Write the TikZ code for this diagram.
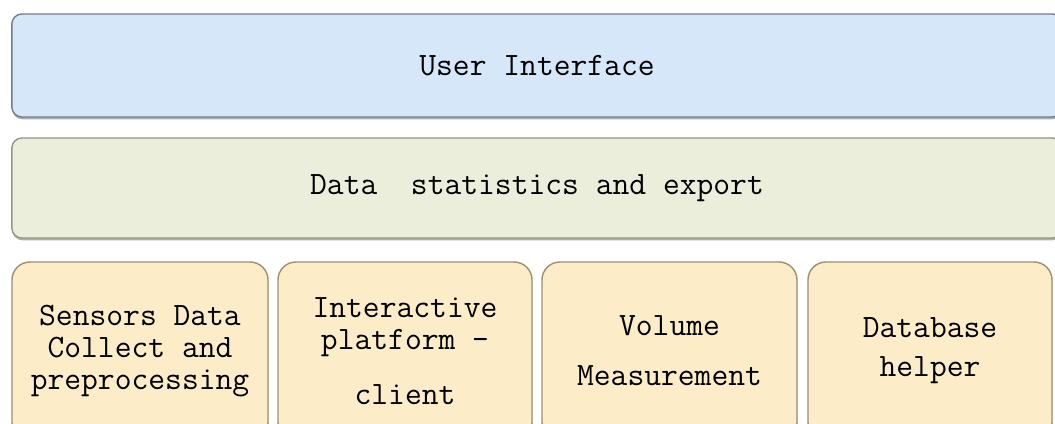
\documentclass[tikz,border=0pt]{standalone}
\usetikzlibrary{shadows}
\definecolor{uifill}{RGB}{213,231,249}
\definecolor{uiline}{RGB}{112,126,140}
\definecolor{statfill}{RGB}{234,238,218}
\definecolor{statline}{RGB}{150,150,128}
\definecolor{modfill}{RGB}{252,236,200}
\definecolor{modline}{RGB}{158,143,112}
\tikzset{layer/.style={draw, line width=1pt, inner sep=0pt, align=center,
    drop shadow={shadow xshift=0.3pt, shadow yshift=-1.6pt, opacity=0.45, fill=black!70},
    font=\ttfamily\fontsize{23.2}{22.6}\selectfont},
  wide layer/.style={layer, rounded corners=0.25cm, minimum width=26.25cm},
  module/.style={layer, rounded corners=0.45cm, minimum height=4.45cm, fill=modfill, draw=modline}}

\begin{document}
\begin{tikzpicture}[x=0.025cm, y=-0.025cm]
  \useasboundingbox (0,0) rectangle (1055,423);
  \clip (0,0) rectangle (1055,423);

  % top two layers run past the right edge
  \node[wide layer, fill=uifill, draw=uiline, minimum height=2.575cm] (ui) at (537,65.5) {User Interface};
  \node[wide layer, fill=statfill, draw=statline, minimum height=2.5cm] (stats) at (537,188) {Data~~statistics and export};

  % bottom row of modules
  \node[module, minimum width=6.4cm]   (sensors)  at (140,351)   {Sensors Data\\Collect and\\preprocessing};
  \node[module, minimum width=6.35cm]  (client)   at (405,351)   {Interactive\\platform -\\[16.5pt]client};
  \node[module, minimum width=6.375cm] (volume)   at (669.5,351) {Volume\\[13pt]Measurement};
  \node[module, minimum width=6.1cm]   (dbhelper) at (930,351)   {Database\\[5.2pt]helper};
\end{tikzpicture}
\end{document}
